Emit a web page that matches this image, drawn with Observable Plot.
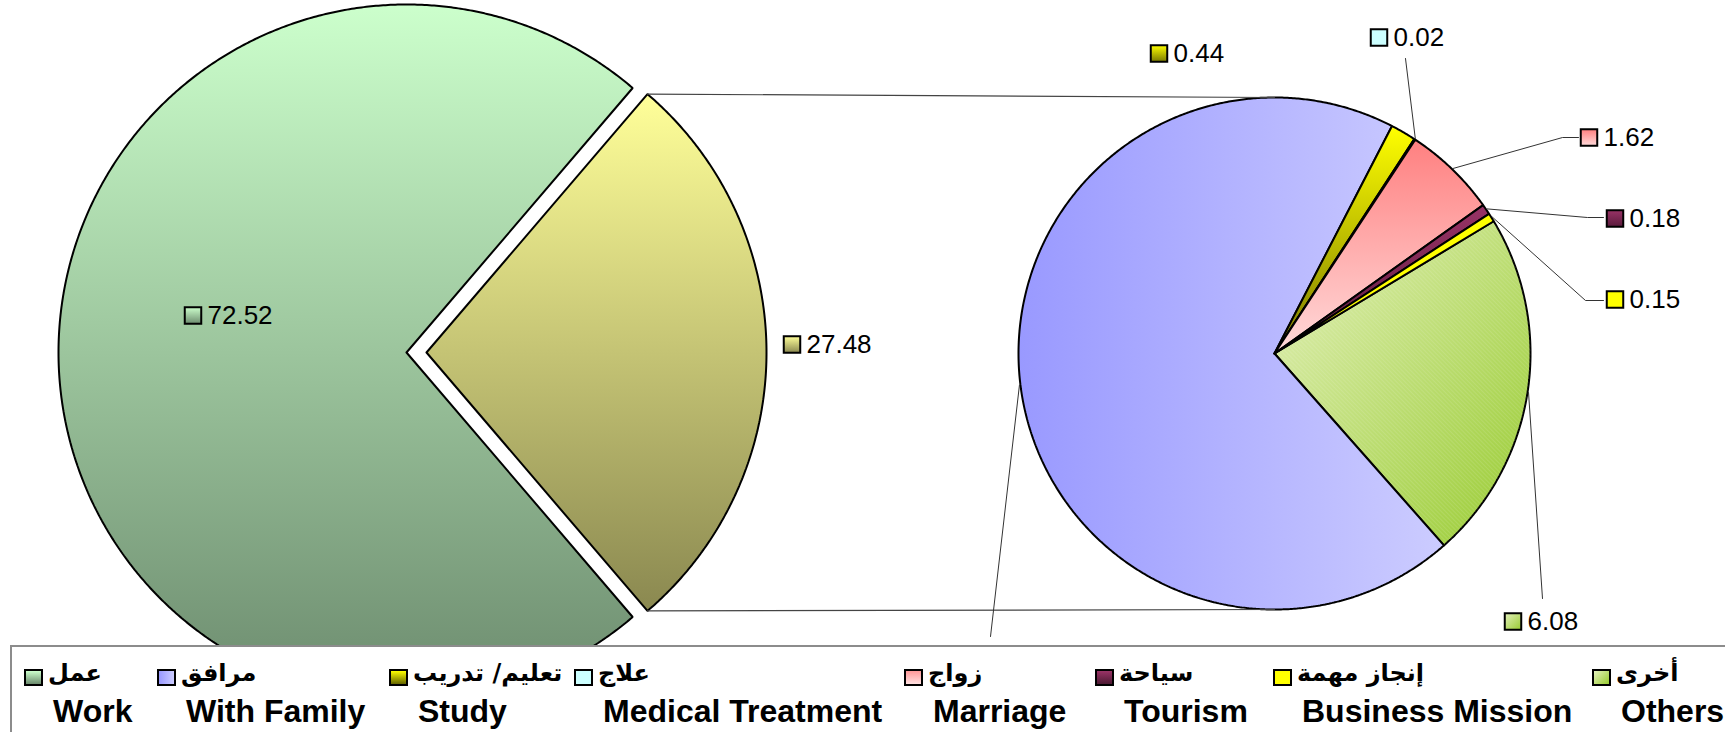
<!DOCTYPE html>
<html>
<head>
<meta charset="utf-8">
<script src="https://cdn.jsdelivr.net/npm/d3@7"></script>
<script src="https://cdn.jsdelivr.net/npm/@observablehq/plot@0.6"></script>
<style>
html,body{margin:0;padding:0;background:#fff;overflow:hidden;}
#chart svg{display:block;}
#legend{position:relative;margin-left:10px;width:1760px;height:100px;border:2px solid #8c8c8c;border-right:none;border-bottom:none;background:#fff;box-sizing:border-box;font-family:"Liberation Sans",Arial,sans-serif;font-weight:bold;color:#000;}
.sw{position:absolute;width:19px;height:17px;border:2px solid #000;box-sizing:border-box;top:22px;}
.ar{position:absolute;top:13px;font-size:24px;line-height:26px;white-space:nowrap;font-family:"DejaVu Sans",sans-serif;font-weight:bold;}
.en{position:absolute;top:48px;font-size:32px;line-height:32px;white-space:nowrap;}
</style>
</head>
<body>
<div id="chart"></div>
<div id="legend"></div>
<script>
// ---------------- DATA ----------------
const mainCategories = ["Work", "Other"];
const mainValues = [72.52, 27.48];

const subCategories = ["Others", "With Family", "Study", "Medical Treatment", "Marriage", "Tourism", "Business Mission"];
const subValues = [6.08, 18.99, 0.44, 0.02, 1.62, 0.18, 0.15];

const legendKeys = ["Work", "With Family", "Study", "Medical Treatment", "Marriage", "Tourism", "Business Mission", "Others"];
const legendEnglish = ["Work", "With Family", "Study", "Medical Treatment", "Marriage", "Tourism", "Business Mission", "Others"];
const legendArabic = ["عمل", "مرافق", "تعليم/ تدريب", "علاج", "زواج", "سياحة", "إنجاز مهمة", "أخرى"];

// ---------------- STYLES / LAYOUT ----------------
const W = 1725, H = 645;
const deg = Math.PI / 180;
const leftPie = {cx: 406, cy: 352};
const radius = {"Work": 348, "Other": 340};
const explode = {"Other": 20};
const rightPie = {cx: 1274, cy: 353, r: 256, startDeg: -31.1};

const grads = {
  "Work": {dir: "v", stops: ["#CCFFCC", "#6C8B6E"]},
  "Other": {dir: "v", stops: ["#FFFF99", "#8A8850"]},
  "With Family": {dir: "h", stops: ["#9999FF", "#CCCCFF"]},
  "Study": {dir: "v", stops: ["#FFFF00", "#7A7A00"]},
  "Medical Treatment": {solid: "#CCFFFF"},
  "Marriage": {dir: "v", stops: ["#FF8080", "#FFDADA"]},
  "Tourism": {dir: "v", stops: ["#993366", "#5A1A3C"]},
  "Business Mission": {solid: "#FFFF00"},
  "Others": {dir: "d", stops: ["#E4F1BC", "#98CB30"]}
};
const cssGrads = {
  "Work": "linear-gradient(to bottom,#CCFFCC,#6C8B6E)",
  "With Family": "linear-gradient(to right,#9999FF,#CCCCFF)",
  "Study": "linear-gradient(to bottom,#FFFF00,#666600)",
  "Medical Treatment": "#CCFFFF",
  "Marriage": "linear-gradient(to bottom,#FF9999,#FFE0E0)",
  "Tourism": "linear-gradient(to bottom,#993366,#4D1A33)",
  "Business Mission": "#FFFF00",
  "Others": "linear-gradient(135deg,#E4F1BC,#98CB30)"
};
const gradKeys = Object.keys(grads);
const idOf = k => "grad" + gradKeys.indexOf(k);
const fillOf = k => grads[k].solid ? grads[k].solid : `url(#${idOf(k)})`;

// label anchor positions (text start) and leader elbows
const labelLayout = {
  "Work": {x: 207, y: 315},
  "Other": {x: 806, y: 344},
  "Study": {x: 1173, y: 53},
  "Medical Treatment": {x: 1393, y: 37, leader: [[1405, 58]]},
  "Marriage": {x: 1603, y: 137, leader: [[1562, 137], [1578, 137]]},
  "Tourism": {x: 1629, y: 218, leader: [[1587, 217], [1603, 217]]},
  "Business Mission": {x: 1629, y: 299, leader: [[1585, 300], [1603, 300]]},
  "Others": {x: 1527, y: 621, leader: [[1542, 598]]},
  "With Family": {leader: [[990, 636]], hidden: true}
};
const legendX = [24, 157, 389, 574, 904, 1095, 1273, 1592];

// ---------------- GEOMETRY ----------------
function pt(cx, cy, r, a) { return [cx + r * Math.sin(a), cy - r * Math.cos(a)]; }
function polygon(key, cx, cy, r, a0, a1) {
  const pts = [{key, x: cx, y: cy}];
  const n = Math.max(2, Math.ceil(Math.abs(a1 - a0) / (0.4 * deg)));
  for (let i = 0; i <= n; i++) {
    const [x, y] = pt(cx, cy, r, a0 + (a1 - a0) * i / n);
    pts.push({key, x, y});
  }
  pts.push({key, x: cx, y: cy});
  return pts;
}

// main pie: "Other" centred on the right (d3 angle 90deg)
const otherSpan = mainValues[1] / d3.sum(mainValues) * 2 * Math.PI;
const mainStart = Math.PI / 2 + otherSpan / 2;
const mainArcs = d3.pie().sort(null).startAngle(mainStart).endAngle(mainStart + 2 * Math.PI)(mainValues)
  .map((a, i) => {
    const key = mainCategories[i];
    const mid = (a.startAngle + a.endAngle) / 2;
    const e = explode[key] || 0;
    const cx = leftPie.cx + e * Math.sin(mid), cy = leftPie.cy - e * Math.cos(mid);
    return {key, value: a.value, a0: a.startAngle, a1: a.endAngle, mid, cx, cy, r: radius[key]};
  });

const subStart = (rightPie.startDeg + 90) * deg;
const subArcs = d3.pie().sort(null).startAngle(subStart).endAngle(subStart + 2 * Math.PI)(subValues)
  .map((a, i) => ({key: subCategories[i], value: a.value, a0: a.startAngle, a1: a.endAngle,
    mid: (a.startAngle + a.endAngle) / 2, cx: rightPie.cx, cy: rightPie.cy, r: rightPie.r}));

const allArcs = [...mainArcs, ...subArcs];

// connector lines between the exploded "Other" slice and the second pie
const otherArc = mainArcs[1];
const [tx0, ty0] = pt(otherArc.cx, otherArc.cy, otherArc.r, otherArc.a0);
const [bx0, by0] = pt(otherArc.cx, otherArc.cy, otherArc.r, otherArc.a1);
const connectors = [
  {key: "top", x: tx0, y: ty0}, {key: "top", x: rightPie.cx, y: rightPie.cy - rightPie.r},
  {key: "bot", x: bx0, y: by0}, {key: "bot", x: rightPie.cx, y: rightPie.cy + rightPie.r}
];

// labels and leaders
const labels = allArcs.filter(a => labelLayout[a.key] && !labelLayout[a.key].hidden)
  .map(a => ({key: a.key, value: a.value, x: labelLayout[a.key].x, y: labelLayout[a.key].y}));
const leaders = allArcs.filter(a => labelLayout[a.key] && labelLayout[a.key].leader).flatMap(a => {
  const [sx, sy] = pt(a.cx, a.cy, a.r + 1, a.mid);
  return [{key: a.key, x: sx, y: sy}, ...labelLayout[a.key].leader.map(([x, y]) => ({key: a.key, x, y}))];
});

// ---------------- DEFS ----------------
const defsMark = () => {
  const defs = d3.create("svg:defs");
  for (const k of gradKeys) {
    const g = grads[k];
    if (g.solid) continue;
    const lg = defs.append("linearGradient").attr("id", idOf(k));
    if (g.dir === "v") lg.attr("x1", 0).attr("y1", 0).attr("x2", 0).attr("y2", 1);
    else if (g.dir === "h") lg.attr("x1", 0).attr("y1", 0).attr("x2", 1).attr("y2", 0);
    else lg.attr("x1", 0).attr("y1", 0).attr("x2", 1).attr("y2", 1);
    lg.append("stop").attr("offset", 0).attr("stop-color", g.stops[0]);
    lg.append("stop").attr("offset", 1).attr("stop-color", g.stops[1]);
  }
  const p = defs.append("pattern").attr("id", "hatch").attr("patternUnits", "userSpaceOnUse")
    .attr("width", 3).attr("height", 3).attr("patternTransform", "rotate(-45)");
  p.append("line").attr("x1", 0).attr("y1", 0).attr("x2", 0).attr("y2", 3)
    .attr("stroke", "#ffffff").attr("stroke-opacity", 0.22).attr("stroke-width", 1);
  return defs.node();
};

// ---------------- MARKS ----------------
const font = "Liberation Sans, Arial, sans-serif";
const marks = [defsMark];
for (const a of allArcs) {
  const pts = polygon(a.key, a.cx, a.cy, a.r, a.a0, a.a1);
  marks.push(Plot.line(pts, {x: "x", y: "y", fill: fillOf(a.key), stroke: "#000", strokeWidth: 2, strokeLinejoin: "miter", curve: "linear"}));
  if (a.key === "Others") marks.push(Plot.line(pts, {x: "x", y: "y", fill: "url(#hatch)", stroke: "none", curve: "linear"}));
}
marks.push(Plot.line(connectors, {x: "x", y: "y", z: "key", stroke: "#444", strokeWidth: 1.2}));
marks.push(Plot.line(leaders, {x: "x", y: "y", z: "key", stroke: "#333", strokeWidth: 1, strokeLinejoin: "miter"}));
for (const d of labels) {
  marks.push(Plot.dot([d], {x: v => v.x - 14.5, y: "y", symbol: "square", r: 9.3, fill: fillOf(d.key), stroke: "#000", strokeWidth: 2}));
}
marks.push(Plot.text(labels, {x: "x", y: "y", text: d => d.value.toFixed(2), textAnchor: "start", lineAnchor: "middle", fontSize: 26, fontFamily: font, fill: "#000"}));

const chart = Plot.plot({
  width: W, height: H, margin: 0,
  x: {domain: [0, W], range: [0, W], axis: null},
  y: {domain: [0, H], range: [0, H], axis: null},
  style: {background: "#fff", overflow: "hidden", maxWidth: "none"},
  marks
});
document.getElementById("chart").append(chart);

// ---------------- LEGEND ----------------
const legend = document.getElementById("legend");
const ox = 12;
legendKeys.forEach((k, i) => {
  const sx = legendX[i];
  const sw = document.createElement("div");
  sw.className = "sw"; sw.style.left = (sx - ox) + "px"; sw.style.background = cssGrads[k];
  legend.append(sw);
  const ar = document.createElement("div");
  ar.className = "ar"; ar.dir = "rtl"; ar.style.left = (sx + 24 - ox) + "px"; ar.textContent = legendArabic[i];
  legend.append(ar);
  const en = document.createElement("div");
  en.className = "en"; en.style.left = (sx + 29 - ox) + "px"; en.textContent = legendEnglish[i];
  legend.append(en);
});
</script>
</body>
</html>
